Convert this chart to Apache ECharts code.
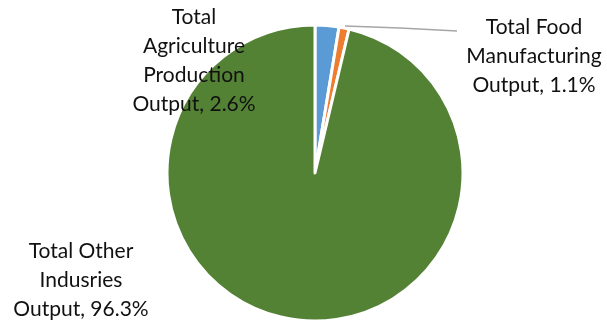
<!DOCTYPE html>
<html>
<head>
<meta charset="utf-8">
<script src="https://cdn.jsdelivr.net/npm/echarts@6/dist/echarts.min.js"></script>
<style>
  html, body { margin: 0; padding: 0; background: #fff; }
  #Chart { width: 607px; height: 320px; }
</style>
</head>
<body>
<div id="Chart"></div>
<script>
var categories = ['Total Agriculture Production Output', 'Total Food Manufacturing Output', 'Total Other Indusries Output'];
var labelText = ['Total\nAgriculture\nProduction\nOutput', 'Total Food\nManufacturing\nOutput', 'Total Other\nIndusries\nOutput'];
var values = [2.6, 1.1, 96.3];
var colors = ['#5B9BD5', '#ED7D31', '#548235'];

// label anchor spots (centre of each text block)
var labelPos = [[194, 61], [534, 56], [81, 280]];

var Chart = echarts.init(document.getElementById('Chart'));

var ChartOption = {
    animation: false,
    series: [{
        type: 'pie',
        center: [315, 173],
        radius: [0, 148],
        startAngle: 90,
        clockwise: true,
        itemStyle: {
            borderColor: '#fff',
            borderWidth: 3
        },
        label: {
            show: true,
            fontFamily: 'Lato',
            fontSize: 21,
            lineHeight: 29,
            color: '#111',
            align: 'center',
            overflow: 'none',
            width: 200,
            formatter: function (p) {
                return labelText[p.dataIndex] + ', ' + p.value + '%';
            }
        },
        labelLine: {
            show: false
        },
        labelLayout: function (params) {
            var pos = labelPos[params.dataIndex];
            var out = {
                x: pos[0],
                y: pos[1],
                align: 'center',
                verticalAlign: 'middle'
            };
            if (params.dataIndex === 1) {
                out.labelLinePoints = [[345, 26], [400, 28], [457, 31]];
            }
            return out;
        },
        data: categories.map(function (name, i) {
            return {
                name: name,
                value: values[i],
                itemStyle: { color: colors[i] },
                labelLine: {
                    show: i === 1,
                    lineStyle: { color: '#A6A6A6', width: 1.5 }
                }
            };
        })
    }]
};

Chart.setOption(ChartOption);
window.addEventListener("resize", function () {
    Chart.resize();
});
</script>
</body>
</html>
